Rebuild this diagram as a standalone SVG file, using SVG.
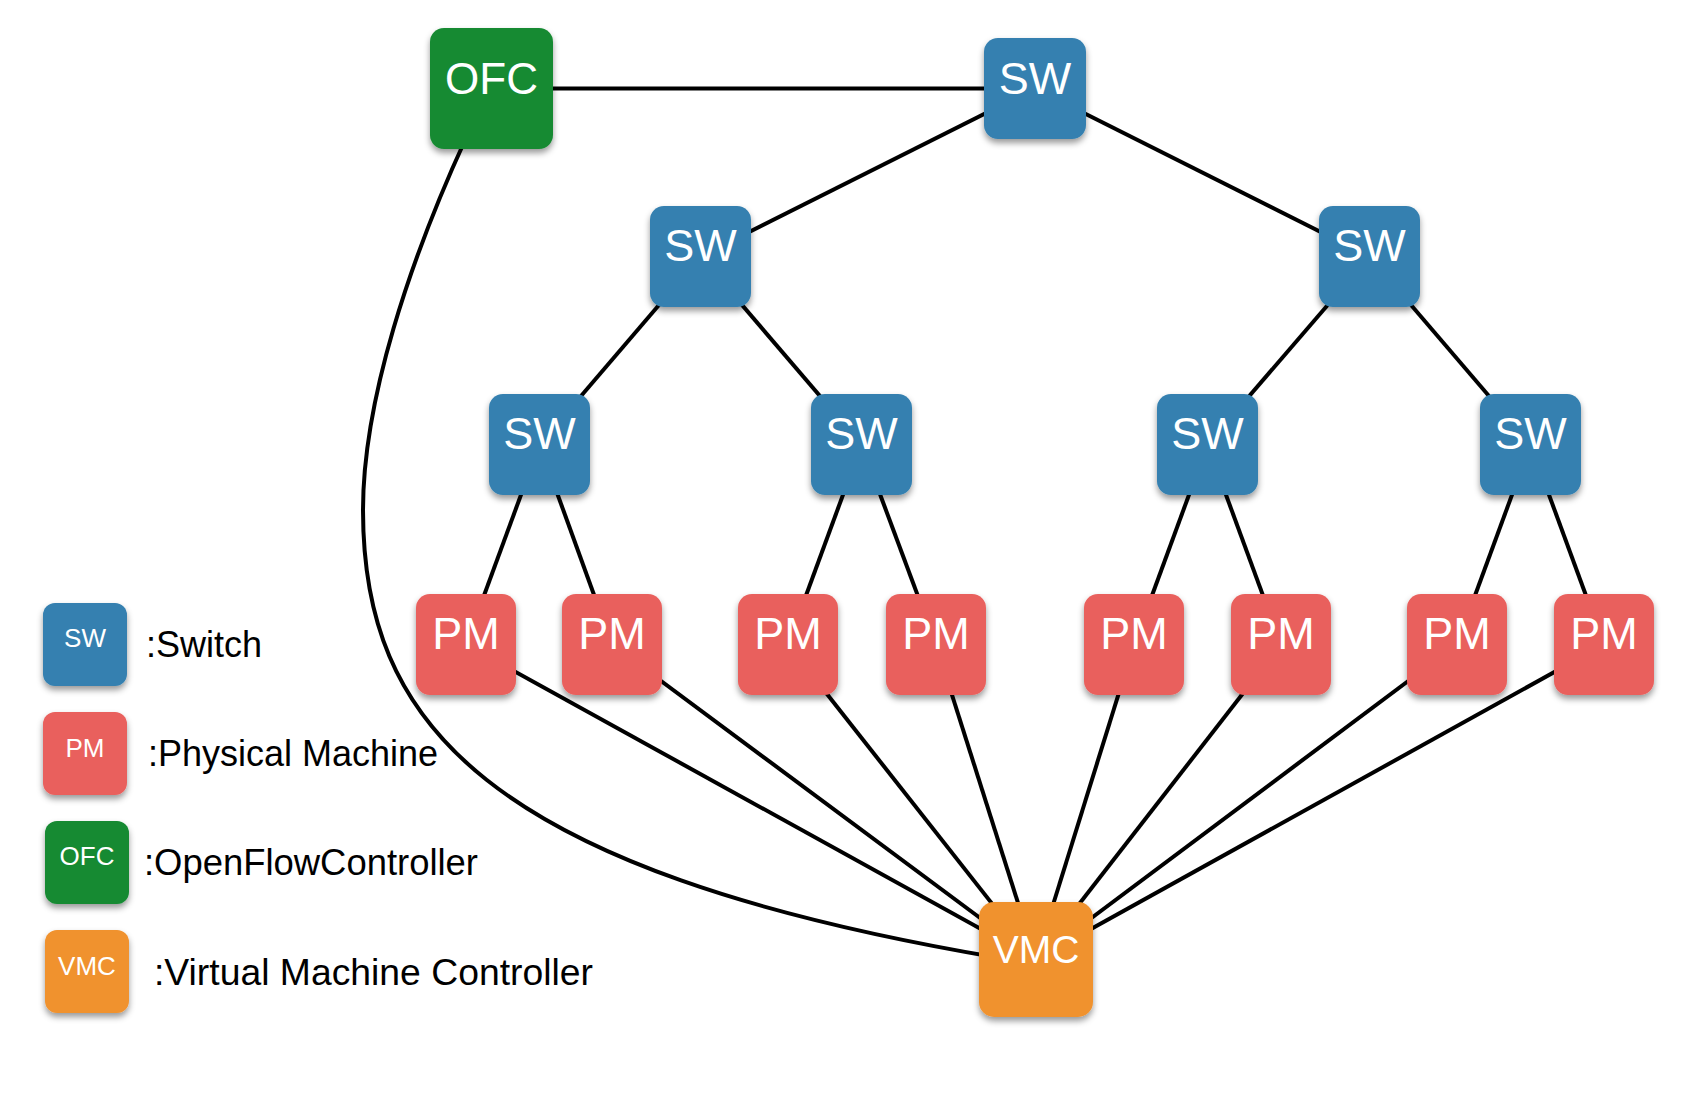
<svg xmlns="http://www.w3.org/2000/svg" width="1700" height="1114" viewBox="0 0 1700 1114">
  <defs>
    <filter id="shadow" x="-20%" y="-20%" width="140%" height="150%">
      <feDropShadow dx="0" dy="4" stdDeviation="3" flood-color="#000" flood-opacity="0.4"/>
    </filter>
    <style>
      .edge { stroke: #000; stroke-width: 4; fill: none; stroke-linecap: butt; }
      .sw { fill: #3580b0; }
      .pm { fill: #e9605d; }
      .ofc { fill: #168a33; }
      .vmc { fill: #f0922f; }
      .box { filter: url(#shadow); }
      .lbl { font-family: "Liberation Sans", Arial, sans-serif; fill: #fff; text-anchor: middle; }
      .big { font-size: 45px; }
      .small { font-size: 26px; }
      .legend { font-family: "Liberation Sans", Arial, sans-serif; font-size: 36px; fill: #000; }
    </style>
  </defs>
  <rect width="1700" height="1114" fill="#fff"/>

  <g id="connectors">
    <line class="edge" x1="491.5" y1="88.5" x2="1035" y2="88.5"/>
    <line class="edge" x1="1035" y1="88.5" x2="700.5" y2="256.5"/>
    <line class="edge" x1="1035" y1="88.5" x2="1369.5" y2="256.5"/>
    <line class="edge" x1="700.5" y1="256.5" x2="539.5" y2="444.5"/>
    <line class="edge" x1="700.5" y1="256.5" x2="861.5" y2="444.5"/>
    <line class="edge" x1="1369.5" y1="256.5" x2="1207.5" y2="444.5"/>
    <line class="edge" x1="1369.5" y1="256.5" x2="1530.5" y2="444.5"/>
    <line class="edge" x1="539.5" y1="444.5" x2="466" y2="644.5"/>
    <line class="edge" x1="539.5" y1="444.5" x2="612" y2="644.5"/>
    <line class="edge" x1="861.5" y1="444.5" x2="788" y2="644.5"/>
    <line class="edge" x1="861.5" y1="444.5" x2="936" y2="644.5"/>
    <line class="edge" x1="1207.5" y1="444.5" x2="1134" y2="644.5"/>
    <line class="edge" x1="1207.5" y1="444.5" x2="1281" y2="644.5"/>
    <line class="edge" x1="1530.5" y1="444.5" x2="1457" y2="644.5"/>
    <line class="edge" x1="1530.5" y1="444.5" x2="1604" y2="644.5"/>
    <line class="edge" x1="466" y1="644.5" x2="1036" y2="959.5"/>
    <line class="edge" x1="612" y1="644.5" x2="1036" y2="959.5"/>
    <line class="edge" x1="788" y1="644.5" x2="1036" y2="959.5"/>
    <line class="edge" x1="936" y1="644.5" x2="1036" y2="959.5"/>
    <line class="edge" x1="1134" y1="644.5" x2="1036" y2="959.5"/>
    <line class="edge" x1="1281" y1="644.5" x2="1036" y2="959.5"/>
    <line class="edge" x1="1457" y1="644.5" x2="1036" y2="959.5"/>
    <line class="edge" x1="1604" y1="644.5" x2="1036" y2="959.5"/>
    <path class="edge" d="M466,138 C410,260 363,400 363,510 C363,720 480,870 1000,958"/>
  </g>

  <g id="ofc">
    <rect class="box ofc" x="430" y="28" width="123" height="121" rx="14"/>
    <text class="lbl" x="491.5" y="94" font-size="44">OFC</text>
  </g>
  <g id="sw0">
    <rect class="box sw" x="984" y="38" width="102" height="101" rx="14"/>
    <text class="lbl big" x="1035" y="94">SW</text>
  </g>
  <g id="sw1">
    <rect class="box sw" x="650" y="206" width="101" height="101" rx="14"/>
    <text class="lbl big" x="700.5" y="261">SW</text>
  </g>
  <g id="sw2">
    <rect class="box sw" x="1319" y="206" width="101" height="101" rx="14"/>
    <text class="lbl big" x="1369.5" y="261">SW</text>
  </g>
  <g id="sw3">
    <rect class="box sw" x="489" y="394" width="101" height="101" rx="14"/>
    <text class="lbl big" x="539.5" y="449">SW</text>
  </g>
  <g id="sw4">
    <rect class="box sw" x="811" y="394" width="101" height="101" rx="14"/>
    <text class="lbl big" x="861.5" y="449">SW</text>
  </g>
  <g id="sw5">
    <rect class="box sw" x="1157" y="394" width="101" height="101" rx="14"/>
    <text class="lbl big" x="1207.5" y="449">SW</text>
  </g>
  <g id="sw6">
    <rect class="box sw" x="1480" y="394" width="101" height="101" rx="14"/>
    <text class="lbl big" x="1530.5" y="449">SW</text>
  </g>

  <g id="pm1">
    <rect class="box pm" x="416" y="594" width="100" height="101" rx="14"/>
    <text class="lbl big" x="466" y="649">PM</text>
  </g>
  <g id="pm2">
    <rect class="box pm" x="562" y="594" width="100" height="101" rx="14"/>
    <text class="lbl big" x="612" y="649">PM</text>
  </g>
  <g id="pm3">
    <rect class="box pm" x="738" y="594" width="100" height="101" rx="14"/>
    <text class="lbl big" x="788" y="649">PM</text>
  </g>
  <g id="pm4">
    <rect class="box pm" x="886" y="594" width="100" height="101" rx="14"/>
    <text class="lbl big" x="936" y="649">PM</text>
  </g>
  <g id="pm5">
    <rect class="box pm" x="1084" y="594" width="100" height="101" rx="14"/>
    <text class="lbl big" x="1134" y="649">PM</text>
  </g>
  <g id="pm6">
    <rect class="box pm" x="1231" y="594" width="100" height="101" rx="14"/>
    <text class="lbl big" x="1281" y="649">PM</text>
  </g>
  <g id="pm7">
    <rect class="box pm" x="1407" y="594" width="100" height="101" rx="14"/>
    <text class="lbl big" x="1457" y="649">PM</text>
  </g>
  <g id="pm8">
    <rect class="box pm" x="1554" y="594" width="100" height="101" rx="14"/>
    <text class="lbl big" x="1604" y="649">PM</text>
  </g>

  <g id="vmc">
    <rect class="box vmc" x="979" y="902" width="114" height="115" rx="15"/>
    <text class="lbl" x="1036" y="963" font-size="39">VMC</text>
  </g>

  <g id="legend-sw">
    <rect class="box sw" x="43" y="603" width="84" height="83" rx="12"/>
    <text class="lbl small" x="85" y="647">SW</text>
    <text class="legend" x="146" y="657" textLength="116" lengthAdjust="spacingAndGlyphs">:Switch</text>
  </g>
  <g id="legend-pm">
    <rect class="box pm" x="43" y="712" width="84" height="83" rx="12"/>
    <text class="lbl small" x="85" y="757">PM</text>
    <text class="legend" x="148" y="766" textLength="290" lengthAdjust="spacingAndGlyphs">:Physical Machine</text>
  </g>
  <g id="legend-ofc">
    <rect class="box ofc" x="45" y="821" width="84" height="83" rx="12"/>
    <text class="lbl small" x="87" y="865">OFC</text>
    <text class="legend" x="144" y="875" textLength="334" lengthAdjust="spacingAndGlyphs">:OpenFlowController</text>
  </g>
  <g id="legend-vmc">
    <rect class="box vmc" x="45" y="930" width="84" height="83" rx="12"/>
    <text class="lbl small" x="87" y="975">VMC</text>
    <text class="legend" x="154" y="985" textLength="439" lengthAdjust="spacingAndGlyphs">:Virtual Machine Controller</text>
  </g>
</svg>
